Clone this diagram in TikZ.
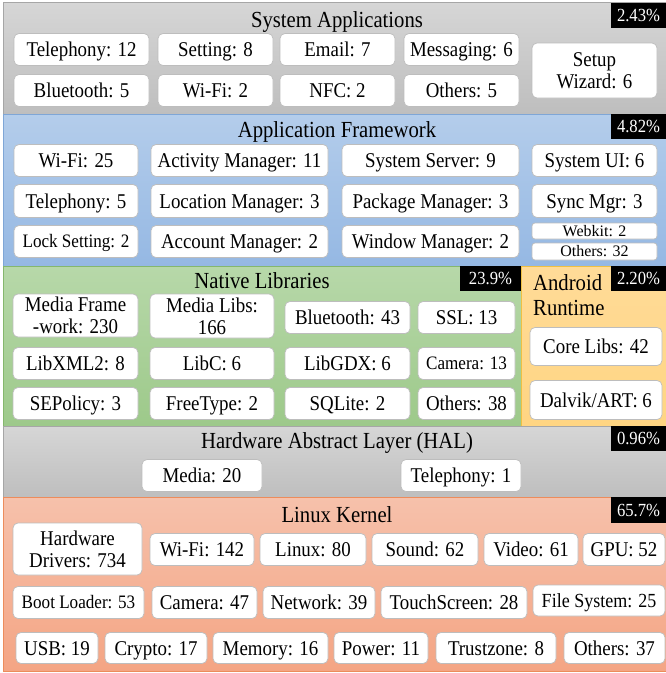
\documentclass[tikz,border=0pt]{standalone}
\usepackage{fontspec}
\setmainfont[FakeStretch=0.9]{Liberation Serif}
\newfontfamily\plainserif{Liberation Serif}
\definecolor{graytop}{HTML}{D6D6D6}
\definecolor{graybot}{HTML}{BEBEBE}
\definecolor{grayline}{HTML}{A6A6A6}
\definecolor{bluetop}{HTML}{B4CDEB}
\definecolor{bluebot}{HTML}{95B8E3}
\definecolor{blueline}{HTML}{7FA6D6}
\definecolor{greentop}{HTML}{B7D8A9}
\definecolor{greenbot}{HTML}{9DC98A}
\definecolor{greenline}{HTML}{85B76D}
\definecolor{orangetop}{HTML}{FFDB98}
\definecolor{orangebot}{HTML}{FFD582}
\definecolor{orangeline}{HTML}{EFC043}
\definecolor{salmontop}{HTML}{F6C1AB}
\definecolor{salmonbot}{HTML}{F4A584}
\definecolor{salmonline}{HTML}{EC8C5C}
\definecolor{boxline}{HTML}{BDBDBD}
\begin{document}
\begin{tikzpicture}[x=1pt,y=-1pt,
  multicomp/.style={draw=boxline, fill=white, rounded corners=5pt, line width=0.7pt, inner sep=0pt, align=center, font=\fontsize{21}{22}\selectfont},
  comp/.style={multicomp, text height=14pt, text depth=0pt},
  smallcomp/.style={multicomp, font=\fontsize{19}{20}\selectfont, text height=12.6pt, text depth=0pt},
  tinycomp/.style={multicomp, rounded corners=3pt, font=\plainserif\fontsize{16}{17}\selectfont, text height=10.6pt, text depth=0pt},
  layertitle/.style={anchor=base, inner sep=0pt, font=\fontsize{23}{25}\selectfont},
  pct/.style={fill=black, text=white, inner sep=0pt, text height=12.3pt, text depth=0pt, font=\fontsize{18.5}{20}\selectfont}]
\useasboundingbox (0,0) rectangle (666,673);
% layers
\path[top color=graytop, bottom color=graybot, draw=grayline, line width=0.8pt] (3,2) rectangle (666,114);
\path[top color=bluetop, bottom color=bluebot, draw=blueline, line width=0.8pt] (3,114) rectangle (666,266);
\path[top color=greentop, bottom color=greenbot, draw=greenline, line width=0.8pt] (3,266) rectangle (521,426);
\path[top color=orangetop, bottom color=orangebot, draw=orangeline, line width=0.8pt] (521,266) rectangle (666,426);
\path[top color=graytop, bottom color=graybot, draw=grayline, line width=0.8pt] (3,426) rectangle (666,497);
\path[top color=salmontop, bottom color=salmonbot, draw=salmonline, line width=0.8pt] (3,497) rectangle (666,671);
% layer names
\node[layertitle] (tsys) at (337,27) {System Applications};
\node[layertitle] (tfw) at (337,137) {Application Framework};
\node[layertitle] (tnat) at (262,288) {Native Libraries};
\node[layertitle, anchor=north west, align=left] (tart) at (533,274.5) {Android\\Runtime};
\node[layertitle] (thal) at (337,448) {Hardware Abstract Layer (HAL)};
\node[layertitle] (tker) at (337,522) {Linux Kernel};
% percentages
\node[pct, minimum width=55pt, minimum height=25pt] (psys) at (638.5,15.5) {2.43\%};
\node[pct, minimum width=55pt, minimum height=25pt] (pfw) at (638.5,126.5) {4.82\%};
\node[pct, minimum width=61pt, minimum height=25pt] (pnat) at (490.5,278.5) {23.9\%};
\node[pct, minimum width=55pt, minimum height=25pt] (part) at (638.5,278.5) {2.20\%};
\node[pct, minimum width=55pt, minimum height=25pt] (phal) at (638.5,438.5) {0.96\%};
\node[pct, minimum width=55pt, minimum height=26pt] (pker) at (638.5,510) {65.7\%};
% system applications
\foreach \a/\b/\t [count=\i] in {14/149/{Telephony: 12},158/273/{Setting: 8},280/395/{Email: 7},404/519/{Messaging: 6}}
  \node[comp, minimum width={(\b-\a)*1pt}, minimum height=32pt] (sa\i) at ({(\a+\b)/2},49.5) {\t};
\foreach \a/\b/\t [count=\i] in {14/149/{Bluetooth: 5},158/273/{Wi-Fi: 2},280/395/{NFC: 2},404/519/{Others: 5}}
  \node[comp, minimum width={(\b-\a)*1pt}, minimum height=32pt] (sb\i) at ({(\a+\b)/2},90.5) {\t};
\node[multicomp, minimum width=125pt, minimum height=55pt] (setup) at (594.5,70.5) {Setup\\Wizard: 6};
% application framework
\foreach \a/\b/\t [count=\i] in {14/138/{Wi-Fi: 25},151/328/{Activity Manager: 11},342/519/{System Server: 9},532/657/{System UI: 6}}
  \node[comp, minimum width={(\b-\a)*1pt}, minimum height=32pt] (fa\i) at ({(\a+\b)/2},160.5) {\t};
\foreach \a/\b/\t [count=\i] in {14/138/{Telephony: 5},151/328/{Location Manager: 3},342/519/{Package Manager: 3},532/657/{Sync Mgr: 3}}
  \node[comp, minimum width={(\b-\a)*1pt}, minimum height=33pt] (fb\i) at ({(\a+\b)/2},201) {\t};
\node[smallcomp, minimum width=124pt, minimum height=32pt] (fc1) at (76,241.5) {Lock Setting: 2};
\foreach \a/\b/\t [count=\i from 2] in {151/328/{Account Manager: 2},342/519/{Window Manager: 2}}
  \node[comp, minimum width={(\b-\a)*1pt}, minimum height=32pt] (fc\i) at ({(\a+\b)/2},241.5) {\t};
\node[tinycomp, minimum width=125pt, minimum height=16pt] (webkit) at (594.5,231) {Webkit: 2};
\node[tinycomp, minimum width=125pt, minimum height=17pt] (fwothers) at (594.5,251.5) {Others: 32};
% native libraries
\node[multicomp, minimum width=125pt, minimum height=43pt] (na1) at (75.5,315.5) {Media Frame\\-work: 230};
\node[multicomp, minimum width=124pt, minimum height=44pt] (na2) at (212,316) {Media Libs:\\166};
\foreach \a/\b/\t [count=\i from 3] in {285/410/{Bluetooth: 43},418/515/{SSL: 13}}
  \node[comp, minimum width={(\b-\a)*1pt}, minimum height=32pt] (na\i) at ({(\a+\b)/2},317.5) {\t};
\foreach \a/\b/\t [count=\i] in {13/138/{LibXML2: 8},150/274/{LibC: 6},285/410/{LibGDX: 6}}
  \node[comp, minimum width={(\b-\a)*1pt}, minimum height=32pt] (nb\i) at ({(\a+\b)/2},363.5) {\t};
\node[smallcomp, minimum width=97pt, minimum height=32pt] (nb4) at (466.5,363.5) {Camera: 13};
\foreach \a/\b/\t [count=\i] in {13/138/{SEPolicy: 3},150/274/{FreeType: 2},285/410/{SQLite: 2},418/515/{Others: 38}}
  \node[comp, minimum width={(\b-\a)*1pt}, minimum height=32pt] (nc\i) at ({(\a+\b)/2},403.5) {\t};
% android runtime
\node[comp, minimum width=132pt, minimum height=38pt] (corelibs) at (596,346.5) {Core Libs: 42};
\node[comp, minimum width=132pt, minimum height=39pt] (dalvik) at (596,400) {Dalvik/ART: 6};
% HAL
\node[comp, minimum width=120pt, minimum height=32pt] (halmedia) at (202,475.5) {Media: 20};
\node[comp, minimum width=120pt, minimum height=32pt] (haltel) at (461,475.5) {Telephony: 1};
% linux kernel
\node[multicomp, minimum width=129pt, minimum height=52pt] (ka1) at (77.5,549) {Hardware\\Drivers: 734};
\foreach \a/\b/\t [count=\i from 2] in {150/254/{Wi-Fi: 142},260/366/{Linux: 80},372/478/{Sound: 62},484/578/{Video: 61},583/665/{GPU: 52}}
  \node[comp, minimum width={(\b-\a)*1pt}, minimum height=32pt] (ka\i) at ({(\a+\b)/2},549.5) {\t};
\node[smallcomp, minimum width=131pt, minimum height=32pt] (kb1) at (78.5,602.5) {Boot Loader: 53};
\foreach \a/\b/\t [count=\i from 2] in {152/257/{Camera: 47},263/375/{Network: 39},381/527/{TouchScreen: 28}}
  \node[comp, minimum width={(\b-\a)*1pt}, minimum height=32pt] (kb\i) at ({(\a+\b)/2},602.5) {\t};
\node[comp, font=\fontsize{20}{21}\selectfont, text height=13.3pt, minimum width=132pt, minimum height=31pt] (kb5) at (599,600.5) {File System: 25};
\foreach \a/\b/\t [count=\i] in {16/98/{USB: 19},105/207/{Crypto: 17},213/328/{Memory: 16},334/428/{Power: 11},436/556/{Trustzone: 8},564/665/{Others: 37}}
  \node[comp, minimum width={(\b-\a)*1pt}, minimum height=31pt] (kc\i) at ({(\a+\b)/2},648) {\t};
\end{tikzpicture}
\end{document}
